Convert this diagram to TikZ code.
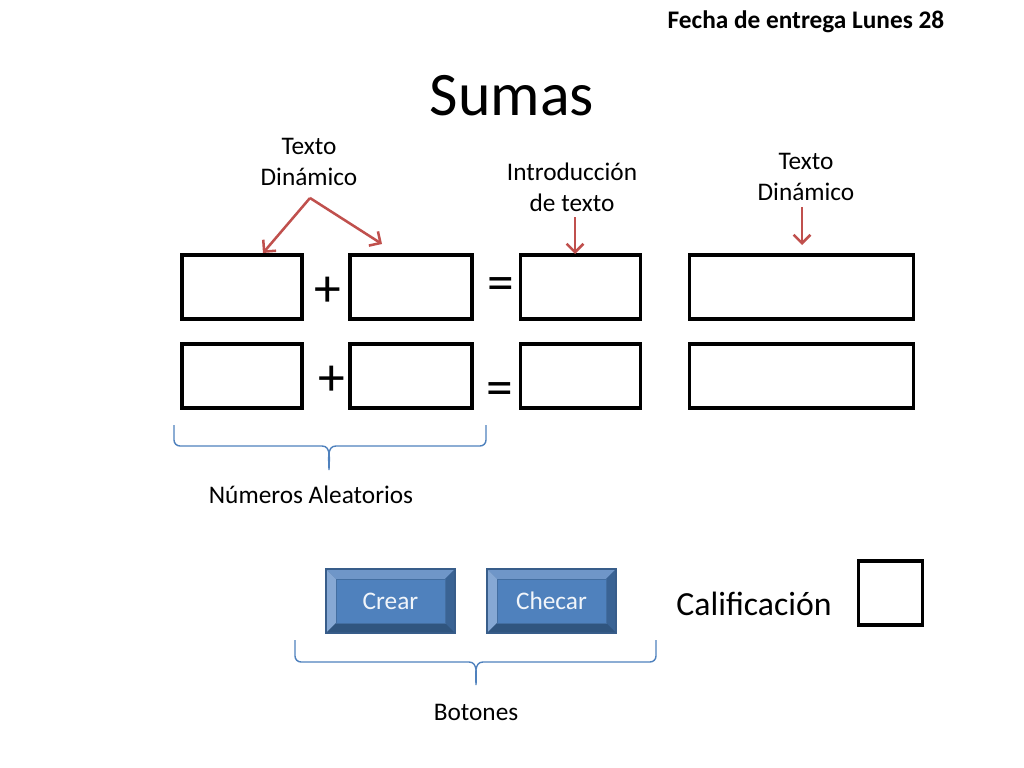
\documentclass[tikz,border=0pt]{standalone}
\usepackage{fontspec}
\setmainfont{Carlito}
\usetikzlibrary{arrows.meta}
\definecolor{accRed}{HTML}{C0504D}
\definecolor{accBlue}{HTML}{4F81BD}
\definecolor{btnDark}{HTML}{385D8A}
\definecolor{btnTop}{HTML}{6F96C8}
\definecolor{btnLeft}{HTML}{86A8D4}
\definecolor{btnRight}{HTML}{3A6394}
\definecolor{btnBottom}{HTML}{30557F}

\begin{document}
\begin{tikzpicture}[x=0.025cm,y=-0.025cm,
  every text node part/.style={align=center},
  box/.style={draw,line width=2.2pt,minimum height=1.6cm,inner sep=0pt},
  lbl/.style={font=\fontsize{18}{22}\selectfont,inner sep=0pt},
  op/.style={font=\fontsize{38}{38}\selectfont,inner sep=0pt},
  pointer/.style={draw=accRed,line width=1.8pt,-{Straight Barb[length=6pt,width=12pt]}},
  curly/.style={draw=accBlue,line width=1pt}]
\useasboundingbox (0,0) rectangle (1024,768);

% titles
\node[font=\bfseries\fontsize{18}{22}\selectfont] (fecha) at (806,22) {Fecha de entrega Lunes 28};
\node[font=\fontsize{44}{50}\selectfont] (sumas) at (512,96) {Sumas};

% the two rows of boxes
\foreach \r/\y in {1/287,2/376}{
  \node[box,minimum width=3cm] (a\r) at (242,\y) {};
  \node[box,minimum width=3.05cm] (b\r) at (411,\y) {};
  \node[box,minimum width=3.02cm] (c\r) at (580.5,\y) {};
  \node[box,minimum width=5.62cm] (d\r) at (801.5,\y) {};
}
\node[op] (plusA) at (328,291.5) {+};
\node[op] (plusB) at (332,381) {+};
\node[op] (eqA) at (501,289) {=};
\node[op] (eqB) at (500,394) {=};

% labels and pointers
\node[lbl] (dinA) at (309,162) {Texto\\Dinámico};
\node[lbl] (intro) at (572,187) {Introducción\\de texto};
\node[lbl] (dinB) at (806,177) {Texto\\Dinámico};
\coordinate (forkA) at (310,198);
\coordinate (tipA) at (263,253);
\coordinate (tipB) at (382,244);
\coordinate (introTop) at (575,217);
\coordinate (introTip) at (575,254);
\coordinate (dinTop) at (802,207);
\coordinate (dinTip) at (802,245);
\draw[pointer] (forkA) -- (tipA);
\draw[pointer] (forkA) -- (tipB);
\draw[pointer] (introTop) -- (introTip);
\draw[pointer] (dinTop) -- (dinTip);

% braces
\draw[curly] (174,425) -- (174,440) to[out=-90,in=180] (180,446)
  -- (322,446) to[out=0,in=90] (329,470) to[out=90,in=180] (336,446) -- (480,446) to[out=0,in=-90] (486,440) -- (486,425);
\node[lbl] (aleat) at (311,495) {Números Aleatorios};

\draw[curly] (295,640) -- (295,656) to[out=-90,in=180] (301,662)
  -- (469,662) to[out=0,in=90] (476,685) to[out=90,in=180] (483,662) -- (650,662) to[out=0,in=-90] (656,656) -- (656,640);
\node[lbl] (botones) at (476,712) {Botones};

% buttons
\foreach \bx/\bname/\btext in {325/crear/Crear,486/checar/Checar}{
  \fill[btnDark] (\bx,568) rectangle ++(131,66);
  \fill[btnTop] (\bx+2,570) -- (\bx+129,570) -- (\bx+120,579) -- (\bx+11,579) -- cycle;
  \fill[btnLeft] (\bx+2,570) -- (\bx+11,579) -- (\bx+11,623) -- (\bx+2,632) -- cycle;
  \fill[btnRight] (\bx+129,570) -- (\bx+129,632) -- (\bx+120,623) -- (\bx+120,579) -- cycle;
  \fill[btnBottom] (\bx+2,632) -- (\bx+11,623) -- (\bx+120,623) -- (\bx+129,632) -- cycle;
  \node[fill=accBlue,draw=accBlue!85!black,line width=0.4pt,minimum width=2.72cm,minimum height=1.1cm,
    text=white!92!accBlue,font=\fontsize{18}{22}\selectfont] (\bname) at (\bx+65.5,601) {\btext};
}

% grade
\node[font=\fontsize{24}{28}\selectfont,inner sep=0pt] (calif) at (754,604) {Calificación};
\node[box,minimum width=1.62cm] (nota) at (890.5,593) {};
\end{tikzpicture}
\end{document}
